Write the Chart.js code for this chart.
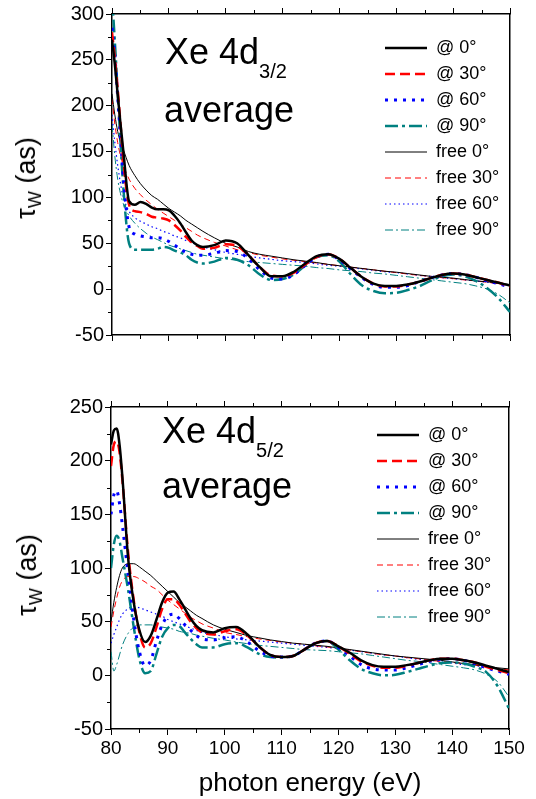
<!DOCTYPE html>
<html><head><meta charset="utf-8">
<script src="https://cdn.jsdelivr.net/npm/chart.js@4.4.1/dist/chart.umd.min.js"></script>
<style>
html,body{margin:0;padding:0;background:#fff;}
#wrap{position:relative;width:536px;height:799px;overflow:hidden;font-family:'Liberation Sans',Arial,sans-serif;color:#000;}
canvas{position:absolute;left:0;}
.ann{position:absolute;font-size:36px;line-height:36px;white-space:nowrap;}
.ann .sub{font-size:20px;position:relative;top:14px;}
.ytitle{position:absolute;font-size:27px;line-height:27px;white-space:nowrap;transform:translate(-50%,-50%) rotate(-90deg);}
.ytitle .sub{font-size:18px;position:relative;top:6px;}
</style></head>
<body>
<div id="wrap">
  <canvas id="cTop" width="536" height="370" style="top:0"></canvas>
  <canvas id="cBot" width="536" height="429" style="top:370px"></canvas>
  <div class="ann" style="left:165px;top:33.5px">Xe 4d<span class="sub">3/2</span></div>
  <div class="ann" style="left:164px;top:91.5px">average</div>
  <div class="ann" style="left:162px;top:412.5px">Xe 4d<span class="sub">5/2</span></div>
  <div class="ann" style="left:162px;top:467.5px">average</div>
  <div class="ytitle" style="left:28px;top:178px">τ<span class="sub">W</span> (as)</div>
  <div class="ytitle" style="left:29px;top:575px">τ<span class="sub">W</span> (as)</div>
</div>
<script>
// ---- data ----
const energy = [80,80.5,81,81.5,82,83,84,85,86,87,88,89,90,91,92,93,94,95,96,98,100,102,104,106,108,110,112,114,116,118,120,122,124,126,128,130,132,134,136,138,140,142,144,146,148,150];

const seriesLabels = ['@ 0°','@ 30°','@ 60°','@ 90°','free 0°','free 30°','free 60°','free 90°'];

const xTickLabels = [80,90,100,110,120,130,140,150];
const yTickLabelsTop = [-50,0,50,100,150,200,250,300];
const yTickLabelsBot = [-50,0,50,100,150,200,250];

// top panel: Xe 4d3/2 average
const top_at0 = [272,245,212,180,150,96,92,95,93,89,87,87,86,80,72,62,53,48,46,48,53,50,37,24,14,14,19,28,36,38,33,23,13,6,3.5,3.5,5,8,12,15.5,17,16,13,10,7,4];
const top_at30 = [280,252,218,180,140,92,85,84,82,79,78,77,75,70,64,57,51,47,44,45,49,47,37,24,15,14,18,27,35,38,33,23,13,6,3,3,5,8,12,15.5,17,16,13,10,7,3];
const top_at60 = [285,255,210,165,120,68,60,58,57,56,56,55,52,48,44,40,38,37,37,39,42,41,33,21,12,11,16,26,35,38,32,22,12,5,2,2,4,8,12,15.5,17,16,13,9,6,2];
const top_at90 = [320,270,215,160,110,50,43,43,43,43,44,46,45,42,40,37,32,29,28,30,34,32,26,16,10,11,16,26,35,37,30,16,4,-2,-4.5,-4,-1,3,9,14,16,14,9,1,-10,-25];
const top_free0 = [213,190,172,160,152,135,124,115,108,102,98,93,88,84,80,75,71,67,63,56,50,46,41,38,36,34,32,30.5,29,27,25.5,24,22.5,21,19.5,18.5,17,15.5,14,13,12,10.5,9,8,6.5,5];
const top_free30 = [208,180,160,145,135,120,110,103,97,92,87,83,79,75,71,67,63,59,56,51,47,43,40,37,35,33,31.5,30,28.5,27,25.5,24,22.5,21,19.5,18,16.5,15,14,12.5,11.5,10,9,7.5,6,4.5];
const top_free60 = [190,160,135,115,100,85,78,74,71,68,66,63,61,58,56,53,51,48,46,43,40,38,36,34,32.5,31,30,29,27.5,26,25,23.5,22,20.5,19,18,16.5,15,14,12.5,11.5,10,9,7.5,6,4];
const top_free90 = [180,145,120,104,93,80,72,66,61,57,54,51,48,46,44,42,40,38,37,35,33,31.5,30,29,28,27,26,25,23.5,22.5,21,20,19,17.5,16.5,15,13.5,12,10.5,9,7.5,6,3.5,0,-6,-15];

// bottom panel: Xe 4d5/2 average
const bot_at0 = [215,228,230,215,185,110,68,42,31,37,52,68,77,78,71,62,53,46,42,40,44,45,38,27,19,17,18,24,30,32,27,21,14,9.5,8,8,9.5,11.5,14,15.5,15.5,14,12,9,6,3];
const bot_at30 = [195,215,218,208,182,115,70,40,26,30,45,62,71,71,66,58,50,44,40,38,41,43,37,27,19,17,18,24,30,32,27,20,13,9,7,7,9,11.5,14,15.5,15.5,14,12,8,5,2];
const bot_at60 = [150,168,172,160,140,95,52,22,9,14,32,47,55,57,53,47,42,37,34,33,35,36,31,23,18,17,18,24,30,32,26,18,10,6,5,5,7,10,13,15,15.5,14,11,7,4,1];
const bot_at90 = [100,122,130,125,110,80,45,15,2,4,20,36,44,47,46,40,34,29,26,26,29,30,26,20,17,16.5,18,24,30,32,24,14,6,2,0,0.5,3,6,9,11.5,12,11,8,3,-10,-31];
const bot_free0 = [50,68,82,93,100,104,104,101,97,93,88,83,78,73,68,64,60,56,53,47,43,40,37,35,33,31.5,30,29,28,27,25.5,24,22.5,21,19.5,18,17,16,15,14,12.5,11,10,8.5,7,6];
const bot_free30 = [45,60,72,82,88,92,92,90,87,83,80,75,70,66,62,58,54,51,48,44,40,38,36,34,32.5,31,30,29,27.5,26.5,25,23.5,22,20.5,19,18,16.5,15.5,14,13,12,11,9.5,8,6.5,5];
const bot_free60 = [30,38,45,52,57,62,64,63,61,59,57,55,52,50,48,46,44,42,40,38,36,34,33,32,31,30,29,28,27,26,25,23.5,22,20.5,19,18,16.5,15,14,12.5,11.5,10,9,7.5,6,4];
const bot_free90 = [22,4,10,19,28,39,45,47,47,47,46,45,44,43,41,40,39,37.5,36.5,34.5,33,31,29.5,28,27,26,25,24,23.5,23,22,21,20,18.5,17,15.5,14,13,11.5,10,8.5,7,5,1,-6,-20];

// ---- styles ----
const FONT = "'Liberation Sans', Arial, sans-serif";
const lineStyles = [
  {color:'#000000', width:2.5, dash:[]},
  {color:'#ff0000', width:2.5, dash:[10,5]},
  {color:'#0000ff', width:3, dash:[3,6]},
  {color:'#008080', width:2.5, dash:[13,4,3,4]},
  {color:'#000000', width:1, dash:[]},
  {color:'#ff0000', width:1, dash:[6,4]},
  {color:'#0000ff', width:1.2, dash:[1.5,3]},
  {color:'#008080', width:1, dash:[8,3,2,3]}
];

const minorTicks = {
  id:'minorTicks',
  afterDraw(chart){
    const ctx = chart.ctx, a = chart.chartArea;
    ctx.save(); ctx.strokeStyle = '#000'; ctx.lineWidth = 1;
    const mids = (s) => { const t = s.ticks, out = []; for (let i = 0; i < t.length - 1; i++) out.push((t[i].value + t[i+1].value) / 2); return out; };
    ['x','x2'].forEach(id => {
      const s = chart.scales[id];
      mids(s).forEach(v => {
        const p = Math.round(s.getPixelForValue(v)) + 0.5;
        ctx.beginPath();
        if (id === 'x') { ctx.moveTo(p, a.bottom); ctx.lineTo(p, a.bottom + 4); }
        else { ctx.moveTo(p, a.top); ctx.lineTo(p, a.top - 4); }
        ctx.stroke();
      });
    });
    const sy = chart.scales.y;
    mids(sy).forEach(v => {
      const p = Math.round(sy.getPixelForValue(v)) + 0.5;
      ctx.beginPath(); ctx.moveTo(a.left, p); ctx.lineTo(a.left - 4, p); ctx.stroke();
    });
    ctx.restore();
  }
};

const legendMover = {
  id:'legendMover',
  afterLayout(chart, args, opts){
    const lg = chart.legend; if (!lg) return;
    lg.left = opts.x; lg.top = opts.y; lg.width = 170; lg.height = 250;
    lg.right = opts.x + 170; lg.bottom = opts.y + 250;
  }
};

function legendItems(chart){
  return chart.data.datasets.map((ds, i) => ({
    text: ds.label,
    fillStyle: ds.borderColor,
    strokeStyle: ds.borderColor,
    lineWidth: ds.borderWidth,
    lineDash: ds.borderDash,
    lineDashOffset: 0,
    lineCap: 'butt',
    pointStyle: 'line',
    fontColor: '#000',
    hidden: false,
    datasetIndex: i
  }));
}

function makeChart(id, series, cfg){
  const datasets = series.map((vals, k) => ({
    label: seriesLabels[k],
    data: energy.map((e, i) => ({x: e, y: vals[i]})),
    borderColor: lineStyles[k].color,
    backgroundColor: lineStyles[k].color,
    borderWidth: lineStyles[k].width,
    borderDash: lineStyles[k].dash,
    pointRadius: 0,
    cubicInterpolationMode: 'monotone',
    fill: false
  }));
  const xTicks = s => { s.ticks = xTickLabels.map(v => ({value: v})); };
  const yTicks = s => { s.ticks = cfg.yTicks.map(v => ({value: v})); };
  const gridOut = {drawOnChartArea:false, drawTicks:true, tickLength:6, tickColor:'#000', tickWidth:1};
  const border = {display:true, color:'#000', width:1.5};
  return new Chart(document.getElementById(id), {
    type:'line',
    data:{datasets},
    plugins:[minorTicks, legendMover],
    options:{
      responsive:false, animation:false, devicePixelRatio:1,
      layout:{padding:0},
      plugins:{
        legend:{
          display:true, position:'chartArea', align:'start',
          labels:{usePointStyle:true, pointStyle:'line', pointStyleWidth:42, padding:8, color:'#000',
                  font:{size:18, family:FONT}, generateLabels:legendItems}
        },
        legendMover:{x:cfg.legendX, y:cfg.legendY},
        tooltip:{enabled:false}
      },
      scales:{
        x:{type:'linear', position:'bottom', display:true, min:80, max:150, afterBuildTicks:xTicks,
           ticks:{display:cfg.showX, autoSkip:false, maxRotation:0, color:'#000', padding:2, font:{size:19, family:FONT}},
           grid:gridOut, border,
           title:{display:cfg.showX, text:'photon energy (eV)', color:'#000', font:{size:26, family:FONT}, padding:{top:0,bottom:0}},
           afterFit:s => { s.height = cfg.bottomH; }},
        x2:{type:'linear', position:'top', display:true, min:80, max:150, afterBuildTicks:xTicks,
           ticks:{display:false}, grid:gridOut, border,
           afterFit:s => { s.height = cfg.topH; }},
        y:{type:'linear', position:'left', display:true, min:cfg.yMin, max:cfg.yMax, afterBuildTicks:yTicks,
           ticks:{color:'#000', padding:2, font:{size:20, family:FONT}},
           grid:gridOut, border,
           afterFit:s => { s.width = cfg.leftW; }},
        y2:{type:'linear', position:'right', display:true, min:cfg.yMin, max:cfg.yMax,
           ticks:{display:false}, grid:{display:false, drawTicks:false, drawOnChartArea:false}, border,
           afterFit:s => { s.width = cfg.rightW; }}
      }
    }
  });
}

makeChart('cTop', [top_at0, top_at30, top_at60, top_at90, top_free0, top_free30, top_free60, top_free90],
  {yMin:-50, yMax:300, yTicks:yTickLabelsTop, showX:false, topH:14, bottomH:35, leftW:112, rightW:26, legendX:377, legendY:31});
makeChart('cBot', [bot_at0, bot_at30, bot_at60, bot_at90, bot_free0, bot_free30, bot_free60, bot_free90],
  {yMin:-50, yMax:250, yTicks:yTickLabelsBot, showX:true, topH:37, bottomH:70, leftW:111, rightW:27, legendX:369, legendY:48});
</script>
</body></html>
